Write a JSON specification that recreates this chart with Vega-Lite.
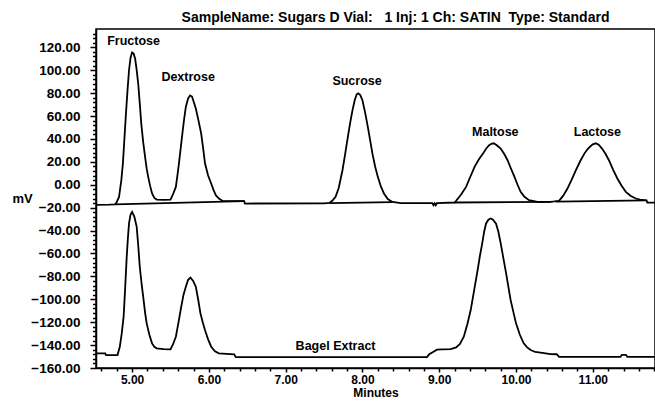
{
  "$schema": "https://vega.github.io/schema/vega-lite/v6.json",
  "width": 559,
  "height": 339,
  "autosize": {"type": "none"},
  "padding": {"left": 96, "top": 29, "right": 0, "bottom": 35},
  "background": "white",
  "config": {
    "view": {"stroke": "black", "strokeWidth": 1.5},
    "font": "Liberation Sans",
    "axis": {"grid": false, "domainColor": "black", "tickColor": "black", "labelColor": "black", "titleColor": "black"}
  },
  "title": {
    "text": "SampleName: Sugars D Vial:\u00a0\u00a0 1 Inj: 1 Ch: SATIN\u00a0 Type: Standard",
    "font": "Liberation Sans",
    "fontSize": 14,
    "fontWeight": "bold",
    "color": "black",
    "anchor": "middle",
    "dx": 20,
    "offset": 4
  },
  "datasets": {
    "traces": [
      {"t": 4.53, "v": -17.6, "s": "std"}, {"t": 4.70, "v": -17.4, "s": "std"}, {"t": 4.77, "v": -17.2, "s": "std"},
      {"t": 4.79, "v": -16.4, "s": "std"}, {"t": 4.83, "v": -10.6, "s": "std"}, {"t": 4.86, "v": 4, "s": "std"},
      {"t": 4.88, "v": 18.5, "s": "std"}, {"t": 4.90, "v": 40, "s": "std"}, {"t": 4.92, "v": 62, "s": "std"},
      {"t": 4.94, "v": 82, "s": "std"}, {"t": 4.96, "v": 100, "s": "std"}, {"t": 4.98, "v": 111, "s": "std"},
      {"t": 5.00, "v": 115.5, "s": "std"}, {"t": 5.02, "v": 114.5, "s": "std"}, {"t": 5.04, "v": 110, "s": "std"},
      {"t": 5.06, "v": 100, "s": "std"}, {"t": 5.08, "v": 88, "s": "std"}, {"t": 5.10, "v": 71, "s": "std"},
      {"t": 5.12, "v": 53, "s": "std"}, {"t": 5.145, "v": 37, "s": "std"}, {"t": 5.17, "v": 24, "s": "std"},
      {"t": 5.19, "v": 14, "s": "std"}, {"t": 5.21, "v": 6.9, "s": "std"}, {"t": 5.235, "v": -1, "s": "std"},
      {"t": 5.26, "v": -7.6, "s": "std"}, {"t": 5.29, "v": -11.5, "s": "std"}, {"t": 5.32, "v": -12.9, "s": "std"},
      {"t": 5.41, "v": -13.2, "s": "std"}, {"t": 5.50, "v": -12.9, "s": "std"}, {"t": 5.535, "v": -8, "s": "std"},
      {"t": 5.57, "v": -1.9, "s": "std"}, {"t": 5.59, "v": 8, "s": "std"}, {"t": 5.61, "v": 18.5, "s": "std"},
      {"t": 5.635, "v": 33, "s": "std"}, {"t": 5.66, "v": 47.6, "s": "std"}, {"t": 5.68, "v": 58.5, "s": "std"},
      {"t": 5.70, "v": 67.9, "s": "std"}, {"t": 5.73, "v": 75.5, "s": "std"}, {"t": 5.755, "v": 78, "s": "std"},
      {"t": 5.78, "v": 77, "s": "std"}, {"t": 5.80, "v": 73, "s": "std"}, {"t": 5.83, "v": 66.5, "s": "std"},
      {"t": 5.865, "v": 56, "s": "std"}, {"t": 5.90, "v": 44.7, "s": "std"}, {"t": 5.925, "v": 32, "s": "std"},
      {"t": 5.95, "v": 18.5, "s": "std"}, {"t": 5.99, "v": 8, "s": "std"}, {"t": 6.03, "v": 1.1, "s": "std"},
      {"t": 6.06, "v": -4.5, "s": "std"}, {"t": 6.09, "v": -9.1, "s": "std"}, {"t": 6.13, "v": -12, "s": "std"},
      {"t": 6.18, "v": -14.1, "s": "std"}, {"t": 6.46, "v": -14.3, "s": "std"}, {"t": 6.47, "v": -16.4, "s": "std"},
      {"t": 7.50, "v": -16.2, "s": "std"}, {"t": 7.57, "v": -15.8, "s": "std"},
      {"t": 7.61, "v": -13.8, "s": "std"}, {"t": 7.65, "v": -10.6, "s": "std"}, {"t": 7.69, "v": -3, "s": "std"},
      {"t": 7.74, "v": 12.7, "s": "std"}, {"t": 7.775, "v": 27, "s": "std"}, {"t": 7.81, "v": 41.8, "s": "std"},
      {"t": 7.84, "v": 54, "s": "std"}, {"t": 7.87, "v": 65, "s": "std"}, {"t": 7.90, "v": 74, "s": "std"},
      {"t": 7.925, "v": 79, "s": "std"}, {"t": 7.945, "v": 79.8, "s": "std"}, {"t": 7.97, "v": 78.5, "s": "std"},
      {"t": 8.00, "v": 73.8, "s": "std"}, {"t": 8.035, "v": 63, "s": "std"}, {"t": 8.07, "v": 50.5, "s": "std"},
      {"t": 8.10, "v": 39, "s": "std"}, {"t": 8.13, "v": 27.2, "s": "std"}, {"t": 8.165, "v": 16, "s": "std"},
      {"t": 8.20, "v": 6.9, "s": "std"}, {"t": 8.24, "v": -1.5, "s": "std"}, {"t": 8.28, "v": -7.6, "s": "std"},
      {"t": 8.33, "v": -12.5, "s": "std"}, {"t": 8.39, "v": -15, "s": "std"}, {"t": 8.50, "v": -16, "s": "std"},
      {"t": 8.91, "v": -16.1, "s": "std"}, {"t": 8.925, "v": -17.8, "s": "std"}, {"t": 8.94, "v": -16.1, "s": "std"},
      {"t": 8.955, "v": -17.8, "s": "std"}, {"t": 8.97, "v": -16.1, "s": "std"}, {"t": 9.20, "v": -15.5, "s": "std"},
      {"t": 9.22, "v": -14, "s": "std"}, {"t": 9.285, "v": -8.5, "s": "std"}, {"t": 9.35, "v": -1.9, "s": "std"},
      {"t": 9.405, "v": 7, "s": "std"}, {"t": 9.46, "v": 15.6, "s": "std"}, {"t": 9.515, "v": 22, "s": "std"},
      {"t": 9.57, "v": 27.2, "s": "std"}, {"t": 9.61, "v": 31.5, "s": "std"}, {"t": 9.65, "v": 34.5, "s": "std"},
      {"t": 9.68, "v": 35.8, "s": "std"}, {"t": 9.71, "v": 36.2, "s": "std"}, {"t": 9.75, "v": 34.5, "s": "std"},
      {"t": 9.80, "v": 31.6, "s": "std"}, {"t": 9.845, "v": 27, "s": "std"}, {"t": 9.89, "v": 21.4, "s": "std"},
      {"t": 9.935, "v": 14, "s": "std"}, {"t": 9.98, "v": 6.9, "s": "std"}, {"t": 10.02, "v": 0, "s": "std"},
      {"t": 10.06, "v": -6.2, "s": "std"}, {"t": 10.11, "v": -10.5, "s": "std"}, {"t": 10.17, "v": -13.5, "s": "std"},
      {"t": 10.28, "v": -15, "s": "std"}, {"t": 10.45, "v": -15, "s": "std"}, {"t": 10.50, "v": -14.6, "s": "std"},
      {"t": 10.56, "v": -14, "s": "std"}, {"t": 10.615, "v": -9.5, "s": "std"}, {"t": 10.67, "v": -3.3, "s": "std"},
      {"t": 10.725, "v": 4.5, "s": "std"}, {"t": 10.78, "v": 12.7, "s": "std"}, {"t": 10.835, "v": 20.5, "s": "std"},
      {"t": 10.89, "v": 27.2, "s": "std"}, {"t": 10.93, "v": 31, "s": "std"}, {"t": 10.97, "v": 33.6, "s": "std"},
      {"t": 11.00, "v": 35.3, "s": "std"}, {"t": 11.04, "v": 36.2, "s": "std"}, {"t": 11.08, "v": 34.8, "s": "std"},
      {"t": 11.12, "v": 31.6, "s": "std"}, {"t": 11.165, "v": 27, "s": "std"}, {"t": 11.21, "v": 21.4, "s": "std"},
      {"t": 11.265, "v": 13, "s": "std"}, {"t": 11.32, "v": 5.5, "s": "std"}, {"t": 11.375, "v": -0.8, "s": "std"},
      {"t": 11.43, "v": -6.2, "s": "std"}, {"t": 11.495, "v": -9.8, "s": "std"}, {"t": 11.56, "v": -12, "s": "std"},
      {"t": 11.615, "v": -13, "s": "std"}, {"t": 11.67, "v": -13.5, "s": "std"}, {"t": 11.70, "v": -13.6, "s": "std"},
      {"t": 11.71, "v": -15.6, "s": "std"}, {"t": 11.81, "v": -15.6, "s": "std"},

      {"t": 4.78, "v": -17.2, "s": "base1"}, {"t": 6.46, "v": -14.3, "s": "base1"},
      {"t": 7.57, "v": -16, "s": "base2"}, {"t": 8.39, "v": -15.2, "s": "base2"},
      {"t": 9.20, "v": -15.5, "s": "base3"}, {"t": 10.45, "v": -15, "s": "base3"},
      {"t": 10.52, "v": -14.8, "s": "base4"}, {"t": 11.70, "v": -13.6, "s": "base4"},

      {"t": 4.53, "v": -147.2, "s": "bagel"}, {"t": 4.65, "v": -147.2, "s": "bagel"}, {"t": 4.66, "v": -148.7, "s": "bagel"},
      {"t": 4.81, "v": -148.7, "s": "bagel"}, {"t": 4.84, "v": -141.4, "s": "bagel"}, {"t": 4.865, "v": -130, "s": "bagel"},
      {"t": 4.89, "v": -115, "s": "bagel"}, {"t": 4.91, "v": -90, "s": "bagel"}, {"t": 4.93, "v": -63, "s": "bagel"},
      {"t": 4.945, "v": -47, "s": "bagel"}, {"t": 4.96, "v": -33.8, "s": "bagel"}, {"t": 4.98, "v": -26, "s": "bagel"},
      {"t": 5.00, "v": -23.7, "s": "bagel"}, {"t": 5.03, "v": -28, "s": "bagel"}, {"t": 5.06, "v": -36.8, "s": "bagel"},
      {"t": 5.08, "v": -53, "s": "bagel"}, {"t": 5.10, "v": -71.6, "s": "bagel"}, {"t": 5.125, "v": -87, "s": "bagel"},
      {"t": 5.15, "v": -100.7, "s": "bagel"}, {"t": 5.17, "v": -112, "s": "bagel"}, {"t": 5.19, "v": -121, "s": "bagel"},
      {"t": 5.225, "v": -131, "s": "bagel"}, {"t": 5.26, "v": -138.5, "s": "bagel"}, {"t": 5.29, "v": -141.5, "s": "bagel"},
      {"t": 5.32, "v": -142.8, "s": "bagel"}, {"t": 5.41, "v": -143.5, "s": "bagel"}, {"t": 5.50, "v": -143.7, "s": "bagel"},
      {"t": 5.535, "v": -139, "s": "bagel"}, {"t": 5.57, "v": -132.7, "s": "bagel"}, {"t": 5.605, "v": -120, "s": "bagel"},
      {"t": 5.64, "v": -106.5, "s": "bagel"}, {"t": 5.67, "v": -96, "s": "bagel"}, {"t": 5.70, "v": -89, "s": "bagel"},
      {"t": 5.73, "v": -83, "s": "bagel"}, {"t": 5.76, "v": -81, "s": "bagel"}, {"t": 5.795, "v": -84, "s": "bagel"},
      {"t": 5.83, "v": -89, "s": "bagel"}, {"t": 5.86, "v": -100, "s": "bagel"}, {"t": 5.89, "v": -112.3, "s": "bagel"},
      {"t": 5.92, "v": -120, "s": "bagel"}, {"t": 5.95, "v": -127, "s": "bagel"}, {"t": 5.99, "v": -135, "s": "bagel"},
      {"t": 6.03, "v": -141.4, "s": "bagel"}, {"t": 6.08, "v": -145.5, "s": "bagel"}, {"t": 6.13, "v": -147.2, "s": "bagel"},
      {"t": 6.33, "v": -148, "s": "bagel"}, {"t": 6.35, "v": -150.5, "s": "bagel"}, {"t": 8.84, "v": -150.5, "s": "bagel"},
      {"t": 8.87, "v": -148, "s": "bagel"}, {"t": 8.92, "v": -146, "s": "bagel"}, {"t": 8.97, "v": -144, "s": "bagel"},
      {"t": 9.04, "v": -143.7, "s": "bagel"}, {"t": 9.15, "v": -143.5, "s": "bagel"}, {"t": 9.22, "v": -142, "s": "bagel"},
      {"t": 9.27, "v": -139, "s": "bagel"}, {"t": 9.32, "v": -132.7, "s": "bagel"}, {"t": 9.365, "v": -122, "s": "bagel"},
      {"t": 9.41, "v": -109.4, "s": "bagel"}, {"t": 9.455, "v": -92, "s": "bagel"}, {"t": 9.50, "v": -74.5, "s": "bagel"},
      {"t": 9.53, "v": -62, "s": "bagel"}, {"t": 9.56, "v": -51.2, "s": "bagel"}, {"t": 9.585, "v": -41, "s": "bagel"},
      {"t": 9.61, "v": -33.8, "s": "bagel"}, {"t": 9.64, "v": -30.5, "s": "bagel"}, {"t": 9.67, "v": -29.5, "s": "bagel"},
      {"t": 9.70, "v": -30.5, "s": "bagel"}, {"t": 9.74, "v": -34, "s": "bagel"}, {"t": 9.77, "v": -41, "s": "bagel"},
      {"t": 9.80, "v": -51, "s": "bagel"}, {"t": 9.835, "v": -64, "s": "bagel"}, {"t": 9.87, "v": -77, "s": "bagel"},
      {"t": 9.90, "v": -89, "s": "bagel"}, {"t": 9.93, "v": -100.7, "s": "bagel"}, {"t": 9.965, "v": -111, "s": "bagel"},
      {"t": 10.00, "v": -121, "s": "bagel"}, {"t": 10.05, "v": -131, "s": "bagel"}, {"t": 10.10, "v": -138.5, "s": "bagel"},
      {"t": 10.145, "v": -142, "s": "bagel"}, {"t": 10.19, "v": -144.3, "s": "bagel"}, {"t": 10.25, "v": -146, "s": "bagel"},
      {"t": 10.32, "v": -146.6, "s": "bagel"}, {"t": 10.45, "v": -147.8, "s": "bagel"}, {"t": 10.53, "v": -148, "s": "bagel"},
      {"t": 10.56, "v": -150.3, "s": "bagel"}, {"t": 11.36, "v": -150.3, "s": "bagel"}, {"t": 11.38, "v": -148.5, "s": "bagel"},
      {"t": 11.43, "v": -148.5, "s": "bagel"}, {"t": 11.45, "v": -150.3, "s": "bagel"}, {"t": 11.81, "v": -150.3, "s": "bagel"}
    ],
    "labels": [
      {"label": "Fructose", "t": 5.02, "v": 125.2},
      {"label": "Dextrose", "t": 5.73, "v": 94.1},
      {"label": "Sucrose", "t": 7.93, "v": 90.6},
      {"label": "Maltose", "t": 9.73, "v": 46.1},
      {"label": "Lactose", "t": 11.06, "v": 46.1},
      {"label": "Bagel Extract", "t": 7.65, "v": -141}
    ]
  },
  "layer": [
    {
      "data": {"name": "traces"},
      "mark": {"type": "line", "color": "black", "strokeWidth": 1.8, "clip": true, "interpolate": "linear"},
      "encoding": {
        "x": {
          "field": "t", "type": "quantitative",
          "scale": {"domain": [4.53, 11.81], "nice": false, "zero": false},
          "axis": {
            "values": [5, 6, 7, 8, 9, 10, 11], "format": ".2f",
            "labelFontSize": 12, "labelFontWeight": "bold", "labelFont": "Liberation Sans",
            "tickSize": 4, "tickWidth": 1.5, "domainWidth": 1.5, "labelPadding": 2,
            "title": "Minutes", "titleFontSize": 12, "titleFontWeight": "bold", "titleFont": "Liberation Sans", "titlePadding": 2
          }
        },
        "y": {
          "field": "v", "type": "quantitative",
          "scale": {"domain": [-160, 136], "nice": false, "zero": false},
          "axis": {
            "values": [-160, -140, -120, -100, -80, -60, -40, -20, 0, 20, 40, 60, 80, 100, 120], "format": ".2f",
            "labelFontSize": 13.5, "labelFontWeight": "bold", "labelFont": "Liberation Sans",
            "tickSize": 6, "tickWidth": 1.5, "domainWidth": 1.5, "labelPadding": 10,
            "title": "mV", "titleAngle": 0, "titleX": -84, "titleY": 169, "titleAlign": "left", "titleBaseline": "middle",
            "titleFontSize": 13, "titleFontWeight": "bold", "titleFont": "Liberation Sans"
          }
        },
        "detail": {"field": "s", "type": "nominal"}
      }
    },
    {
      "data": {"name": "traces"},
      "mark": {"type": "line", "opacity": 0},
      "encoding": {
        "x": {
          "field": "t", "type": "quantitative",
          "axis": {
            "orient": "bottom",
            "values": [4.6, 4.8, 5.2, 5.4, 5.6, 5.8, 6.2, 6.4, 6.6, 6.8, 7.2, 7.4, 7.6, 7.8, 8.2, 8.4, 8.6, 8.8, 9.2, 9.4, 9.6, 9.8, 10.2, 10.4, 10.6, 10.8, 11.2, 11.4, 11.6, 11.8],
            "labels": false, "domain": false, "tickSize": 3, "tickWidth": 1.5, "title": null
          }
        },
        "y": {
          "field": "v", "type": "quantitative",
          "axis": {
            "orient": "left",
            "values": [-156, -152, -148, -144, -136, -132, -128, -124, -116, -112, -108, -104, -96, -92, -88, -84, -76, -72, -68, -64, -56, -52, -48, -44, -36, -32, -28, -24, -16, -12, -8, -4, 4, 8, 12, 16, 24, 28, 32, 36, 44, 48, 52, 56, 64, 68, 72, 76, 84, 88, 92, 96, 104, 108, 112, 116, 124, 128, 132],
            "labels": false, "domain": false, "tickSize": 3.5, "tickWidth": 1.5, "title": null
          }
        },
        "detail": {"field": "s", "type": "nominal"}
      }
    },
    {
      "data": {"name": "labels"},
      "mark": {"type": "text", "font": "Liberation Sans", "fontSize": 12.5, "fontWeight": "bold", "color": "black", "align": "center", "baseline": "middle"},
      "encoding": {
        "x": {"field": "t", "type": "quantitative", "axis": null},
        "y": {"field": "v", "type": "quantitative", "axis": null},
        "text": {"field": "label", "type": "nominal"}
      }
    }
  ],
  "resolve": {"axis": {"x": "independent", "y": "independent"}}
}
